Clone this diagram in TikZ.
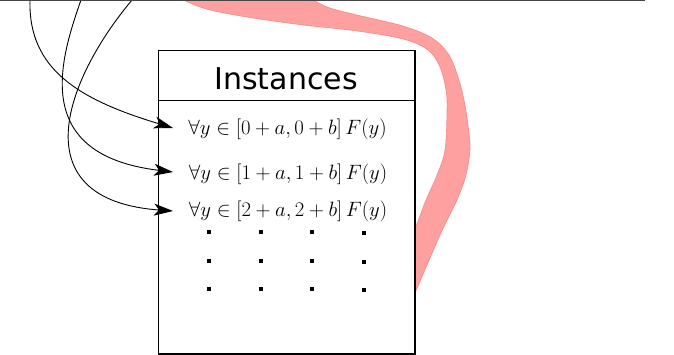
\documentclass[tikz,border=0pt]{standalone}
\usepackage{fontspec}
\newfontfamily\titlefont{DejaVu Sans}
\usetikzlibrary{arrows.meta}
\definecolor{bandfill}{RGB}{255,160,160}
\definecolor{bandedge}{RGB}{240,115,115}
\definecolor{topgray}{RGB}{70,70,70}
\tikzset{
  rowtext/.style={anchor=base, inner sep=0pt, font=\fontsize{20}{24}\selectfont},
  titletext/.style={anchor=base, inner sep=0pt, font=\titlefont\fontsize{30}{36}\selectfont},
  arrowcurve/.style={draw=black, line width=0.9pt, -{Stealth[length=19pt,width=12pt,inset=5pt]}},
  boxframe/.style={draw=black, fill=white, line width=1pt},
  dotmark/.style={fill=black}
}
\begin{document}
\begin{tikzpicture}[x=1pt,y=-1pt]
\useasboundingbox (0,0) rectangle (674,355);
\clip (0,0) rectangle (674,355);
% red band
\fill[bandfill] plot[smooth, tension=0.55] coordinates {(290,-12) (313,0) (330,8) (357,15) (403,26) (432,38) (449,55) (459,80) (465,105) (469,133) (470,150) (466,175) (457,200) (440,235) (415,293) (402,320)}
  -- plot[smooth, tension=0.55] coordinates {(400,258) (415,228) (426,200) (437,175) (445,150) (447,110) (446,90) (440,67) (428,50) (403,39) (357,31) (303,25) (253,18) (210,10) (183,0) (160,-12)} -- cycle;
\draw[bandedge, line width=0.6pt, opacity=0.7] plot[smooth, tension=0.55] coordinates {(290,-12) (313,0) (330,8) (357,15) (403,26) (432,38) (449,55) (459,80) (465,105) (469,133) (470,150) (466,175) (457,200) (440,235) (415,293) (402,320)};
\draw[bandedge, line width=0.6pt, opacity=0.7] plot[smooth, tension=0.55] coordinates {(400,258) (415,228) (426,200) (437,175) (445,150) (447,110) (446,90) (440,67) (428,50) (403,39) (357,31) (303,25) (253,18) (210,10) (183,0) (160,-12)};
% box
\node[boxframe, minimum width=256pt, minimum height=303pt, inner sep=0pt, anchor=north west] (box) at (158,50) {};
\draw[black, line width=1.2pt] ([xshift=0.8pt]box.north east) -- ([xshift=0.8pt,yshift=-0.8pt]box.south east) -- ([yshift=-0.8pt]box.south west);
\coordinate (sepL) at (158,101);
\coordinate (sepR) at (414,101);
\draw[black, line width=1pt] (sepL) -- (sepR);
\node[titletext] (title) at (286,90) {Instances};
\node[rowtext] (row1) at (287.5,135) {$\forall y \in [0+a,0+b]\,F(y)$};
\node[rowtext] (row2) at (288,180) {$\forall y \in [1+a,1+b]\,F(y)$};
\node[rowtext] (row3) at (288,217) {$\forall y \in [2+a,2+b]\,F(y)$};
% dots
\foreach \dx/\off in {209/0,261/0,312/0,364/1}{
  \foreach \dy in {232,261,289}{
    \fill[dotmark] (\dx-1.7,\dy-1.7+\off) rectangle (\dx+1.7,\dy+1.7+\off);
  }
}
% arrows
\coordinate (s1) at (30,0);
\coordinate (s2) at (81,0);
\coordinate (s3) at (132,0);
\coordinate (t1) at (173,128);
\coordinate (t2) at (173,172);
\coordinate (t3) at (173,211);
\draw[arrowcurve] (s1) .. controls (28,70) and (80,100) .. (t1);
\draw[arrowcurve] (s2) .. controls (60,60) and (30,155) .. (t2);
\draw[arrowcurve] (s3) .. controls (65,80) and (20,200) .. (t3);
% top line
\coordinate (lineL) at (0,0.6);
\coordinate (lineR) at (645,0.6);
\draw[topgray, line width=1.4pt] (lineL) -- (lineR);
\end{tikzpicture}
\end{document}
